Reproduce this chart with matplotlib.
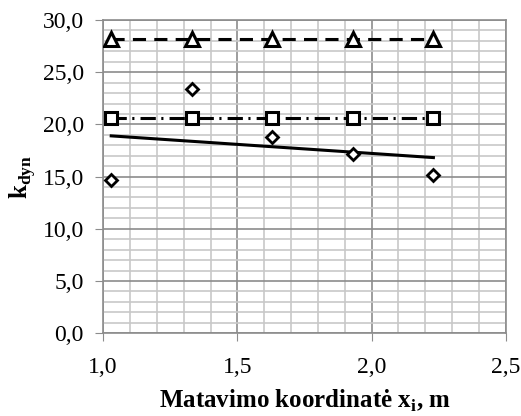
import matplotlib.pyplot as plt
import numpy as np
from matplotlib.ticker import MultipleLocator, FuncFormatter

x = [1.03, 1.33, 1.63, 1.93, 2.23]
k_triangle = [28.2, 28.2, 28.2, 28.2, 28.2]
k_square = [20.6, 20.6, 20.6, 20.6, 20.6]
k_measured = [14.7, 23.4, 18.8, 17.2, 15.2]

plt.rcParams['font.family'] = ['Liberation Serif', 'DejaVu Serif']

fig = plt.figure(figsize=(5.21, 4.16), dpi=100)
ax = fig.add_axes([0.198, 0.199, 0.773, 0.753])

ax.plot(x, k_triangle, color='black', lw=2.2, dashes=(4.3, 2.7), marker='^',
        ms=9.5, mfc='white', mec='black', mew=2.2, zorder=3)
ax.plot(x, k_square, color='black', lw=2.2, dashes=(5, 1.8, 0.7, 2), marker='s',
        ms=9, mfc='white', mec='black', mew=2.2, zorder=3)
ax.plot(x, k_measured, ls='none', marker='D', ms=6.5, mfc='white',
        mec='black', mew=2, zorder=4)

# linear trend of measured values
p = np.polyfit(x, k_measured, 1)
xt = np.array([x[0], x[-1]])
ax.plot(xt, np.polyval(p, xt), color='black', lw=2.2, zorder=3)

ax.set_xlim(1.0, 2.5)
ax.set_ylim(0, 30)
ax.xaxis.set_major_locator(MultipleLocator(0.5))
ax.xaxis.set_minor_locator(MultipleLocator(0.1))
ax.yaxis.set_major_locator(MultipleLocator(5))
ax.yaxis.set_minor_locator(MultipleLocator(1))
fmt = FuncFormatter(lambda v, pos: f"{v:.1f}".replace('.', ','))
ax.xaxis.set_major_formatter(fmt)
ax.yaxis.set_major_formatter(fmt)

ax.grid(which='major', color='#8c8c8c', lw=1.2)
ax.grid(which='minor', color='#c8c8c8', lw=1.2)
ax.set_axisbelow(True)
for s in ax.spines.values():
    s.set_color('#8c8c8c')
    s.set_linewidth(1.2)

ax.tick_params(which='major', length=6, color='#8c8c8c', labelsize=17, pad=8)
ax.tick_params(axis='x', which='major', pad=11)
ax.tick_params(which='minor', length=0)

ax.set_xlabel('Matavimo koordinatė x$_\\mathregular{i}$, m', fontsize=18,
              fontweight='bold', labelpad=7)
ax.set_ylabel('k$_\\mathregular{dyn}$', fontsize=18, fontweight='bold', labelpad=3)

plt.savefig('out.png', dpi=100)
